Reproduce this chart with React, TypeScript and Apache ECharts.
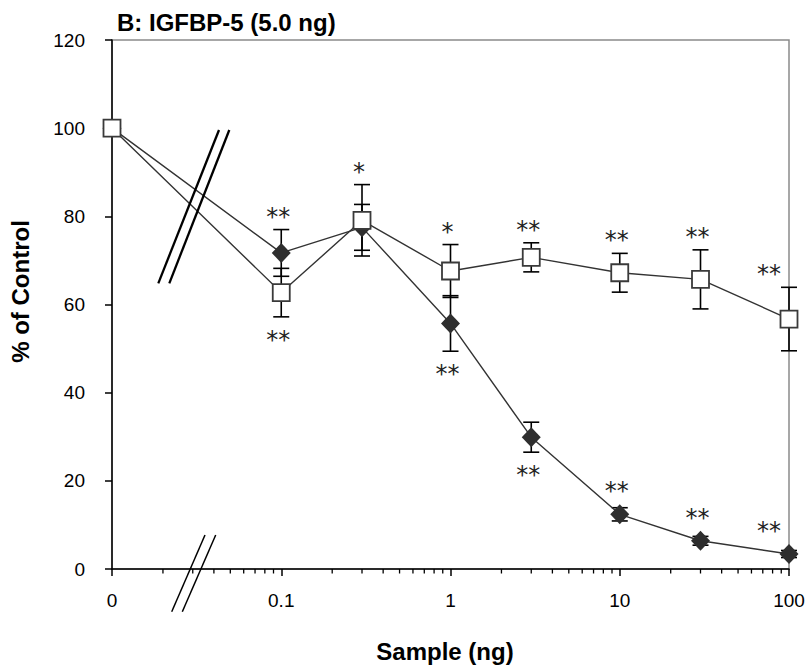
import React, { useEffect, useRef } from 'react';
import * as echarts from 'echarts';

// ---- data ----
const doses = [0, 0.1, 0.3, 1, 3, 10, 30, 100];
const zeroPosition = 0.01; // where dose 0 is drawn on the broken log axis
const filledMean = [100, 71.7, 77.5, 55.7, 29.9, 12.4, 6.4, 3.4];
const filledErr = [0, 5.3, 5.2, 6.3, 3.4, 1.5, 1.0, 0.8];
const openMean = [100, 62.7, 79.1, 67.6, 70.7, 67.2, 65.7, 56.7];
const openErr = [0, 5.5, 8.1, 6.0, 3.3, 4.4, 6.7, 7.2];
const filledSig = ['', '**', '', '**', '**', '**', '**', '**'];
const filledSigSide = ['', 'above', '', 'below', 'below', 'above', 'above', 'above'];
const openSig = ['', '**', '*', '*', '**', '**', '**', '**'];
const openSigSide = ['', 'below', 'above', 'above', 'above', 'above', 'above', 'above'];
const xTickLabels = ['0', '0.1', '1', '10', '100'];
const minorDecades = [0.01, 0.1, 1, 10];
const minorMultipliers = [2, 3, 4, 5, 6, 7, 8, 9];
const yMin = 0;
const yMax = 120;
const yInterval = 20;

const titleText = 'B: IGFBP-5 (5.0 ng)';
const xName = 'Sample (ng)';
const yName = '% of Control';

const FONT = '"Liberation Sans", Arial, sans-serif';

const xPos = (d: number) => (d === 0 ? zeroPosition : d);

function errorBarSeries(mean: number[], err: number[], z: number) {
  return {
    type: 'custom',
    z,
    clip: false,
    silent: true,
    data: doses.map((d, i) => [xPos(d), mean[i], err[i]]),
    renderItem: (params: any, api: any) => {
      const x = api.value(0);
      const m = api.value(1);
      const e = api.value(2);
      if (!e) return { type: 'group', children: [] };
      const top = api.coord([x, m + e]);
      const bot = api.coord([x, m - e]);
      const hw = 8;
      const st = { stroke: '#000', lineWidth: 1.6 };
      return {
        type: 'group',
        children: [
          { type: 'line', shape: { x1: top[0], y1: top[1], x2: bot[0], y2: bot[1] }, style: st },
          { type: 'line', shape: { x1: top[0] - hw, y1: top[1], x2: top[0] + hw, y2: top[1] }, style: st },
          { type: 'line', shape: { x1: bot[0] - hw, y1: bot[1], x2: bot[0] + hw, y2: bot[1] }, style: st },
        ],
      };
    },
  };
}

function sigSeries(mean: number[], err: number[], sig: string[], side: string[], z: number) {
  return {
    type: 'custom',
    z,
    clip: false,
    silent: true,
    data: doses.map((d, i) => [xPos(d), mean[i], err[i]]),
    renderItem: (params: any, api: any) => {
      const i = params.dataIndex;
      const text = sig[i];
      if (!text) return { type: 'group', children: [] };
      const x = api.value(0);
      const m = api.value(1);
      const e = api.value(2);
      const c = api.coord([x, m]);
      const errPx = Math.abs(api.coord([x, m + e])[1] - c[1]);
      const reach = Math.max(errPx, 10) + 18;
      const y = side[i] === 'above' ? c[1] - reach : c[1] + reach;
      const dx = i === doses.length - 1 ? -20 : -3;
      return {
        type: 'text',
        x: c[0] + dx,
        y: y + 5,
        style: {
          text,
          fill: '#222',
          font: '24px "DejaVu Sans", sans-serif',
          align: 'center',
          verticalAlign: 'middle',
          textAlign: 'center',
          textVerticalAlign: 'middle',
        },
      };
    },
  };
}

export default function App() {
  const ref = useRef<HTMLDivElement>(null);

  useEffect(() => {
    if (!ref.current) return;
    const chart = echarts.init(ref.current, null, { renderer: 'svg' });

    const minorTicks: number[] = [];
    minorDecades.forEach((d) => minorMultipliers.forEach((k) => minorTicks.push(d * k)));

    const option: any = {
      animation: false,
      backgroundColor: '#fff',
      grid: {
        left: 112,
        right: 19,
        top: 40,
        bottom: 102,
        show: true,
        borderColor: '#8a8a8a',
        borderWidth: 1.5,
        backgroundColor: 'transparent',
      },
      xAxis: {
        type: 'log',
        logBase: 10,
        min: zeroPosition,
        max: 100,
        axisLine: { show: true, lineStyle: { color: '#000', width: 1.5 } },
        axisTick: { show: true, inside: false, length: 7, lineStyle: { color: '#000', width: 1.5 } },
        minorTick: { show: false },
        splitLine: { show: false },
        axisLabel: {
          color: '#000',
          fontSize: 19,
          fontFamily: FONT,
          margin: 22,
          formatter: (v: number) => {
            const e = Math.round(Math.log10(v));
            return xTickLabels[e + 2] ?? '';
          },
        },
      },
      yAxis: {
        type: 'value',
        min: yMin,
        max: yMax,
        interval: yInterval,
        axisLine: { show: true, lineStyle: { color: '#000', width: 1.5 } },
        axisTick: { show: true, inside: false, length: 7, lineStyle: { color: '#000', width: 1.5 } },
        splitLine: { show: false },
        axisLabel: { color: '#000', fontSize: 19, fontFamily: FONT, margin: 27 },
      },
      graphic: [
        {
          type: 'text',
          x: 117,
          y: 22,
          style: {
            text: titleText,
            font: 'bold 24px ' + FONT,
            fill: '#000',
            textAlign: 'left',
            textVerticalAlign: 'middle',
          },
        },
        {
          type: 'text',
          x: 445,
          y: 651,
          style: {
            text: xName,
            font: 'bold 24px ' + FONT,
            fill: '#000',
            textAlign: 'center',
            textVerticalAlign: 'middle',
          },
        },
        {
          type: 'text',
          x: 20,
          y: 291.5,
          rotation: Math.PI / 2,
          style: {
            text: yName,
            font: 'bold 24px ' + FONT,
            fill: '#000',
            textAlign: 'center',
            textVerticalAlign: 'middle',
          },
        },
        // axis break marks in the plot
        { type: 'line', z: 100, shape: { x1: 219, y1: 130, x2: 158.3, y2: 283.3 }, style: { stroke: '#000', lineWidth: 2.3 } },
        { type: 'line', z: 100, shape: { x1: 229.3, y1: 130, x2: 169.3, y2: 283.3 }, style: { stroke: '#000', lineWidth: 2.3 } },
        // axis break marks on the x axis
        { type: 'line', z: 100, shape: { x1: 205, y1: 535, x2: 171.7, y2: 611.7 }, style: { stroke: '#000', lineWidth: 1.5 } },
        { type: 'line', z: 100, shape: { x1: 215.7, y1: 535, x2: 182.3, y2: 611.7 }, style: { stroke: '#000', lineWidth: 1.5 } },
      ],
      series: [
        {
          type: 'custom',
          z: 1,
          clip: false,
          silent: true,
          data: minorTicks.map((v) => [v, yMin]),
          renderItem: (params: any, api: any) => {
            const p = api.coord([api.value(0), api.value(1)]);
            return {
              type: 'line',
              shape: { x1: p[0], y1: p[1], x2: p[0], y2: p[1] + 4.5 },
              style: { stroke: '#000', lineWidth: 1.3 },
            };
          },
        },
        errorBarSeries(filledMean, filledErr, 2),
        errorBarSeries(openMean, openErr, 2),
        {
          name: 'filled',
          type: 'line',
          z: 3,
          data: doses.map((d, i) => [xPos(d), filledMean[i]]),
          symbol: 'diamond',
          symbolSize: [19, 20],
          showAllSymbol: true,
          lineStyle: { color: '#333', width: 1.4 },
          itemStyle: { color: '#2e2e2e', borderColor: '#2e2e2e', borderWidth: 0 },
        },
        {
          name: 'open',
          type: 'line',
          z: 4,
          data: doses.map((d, i) => [xPos(d), openMean[i]]),
          symbol: 'rect',
          symbolSize: 17,
          showAllSymbol: true,
          lineStyle: { color: '#333', width: 1.4 },
          itemStyle: { color: '#fff', borderColor: '#3a3a3a', borderWidth: 1.8 },
        },
        sigSeries(filledMean, filledErr, filledSig, filledSigSide, 5),
        sigSeries(openMean, openErr, openSig, openSigSide, 5),
      ],
    };

    chart.setOption(option);
    return () => chart.dispose();
  }, []);

  return (
    <div
      ref={ref}
      style={{ position: 'fixed', left: 0, top: 0, width: 808, height: 671, background: '#fff' }}
    />
  );
}
